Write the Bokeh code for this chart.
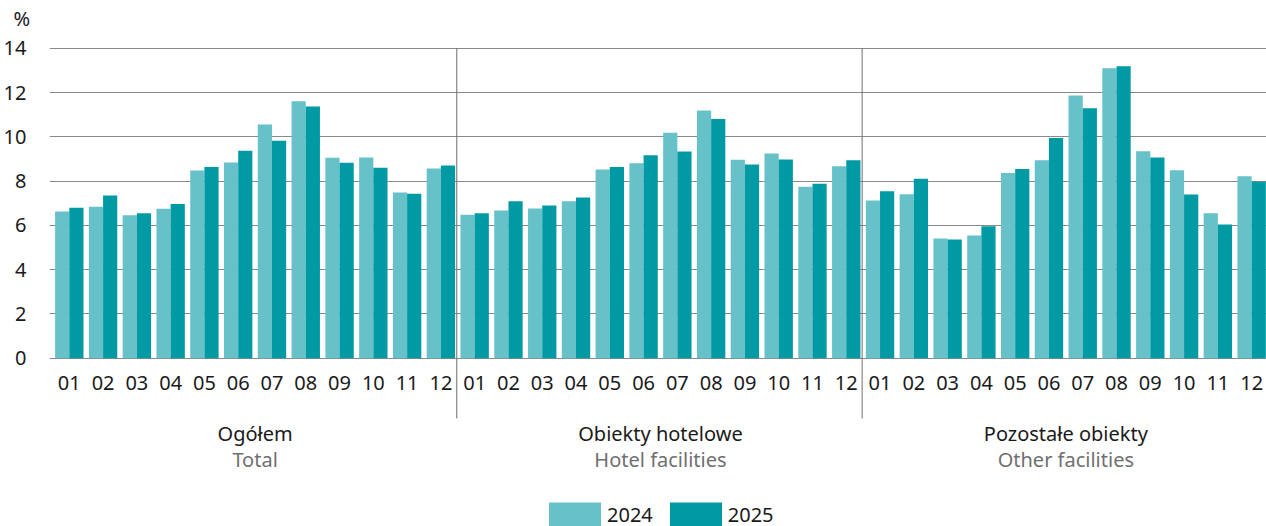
from bokeh.plotting import figure
from bokeh.models import (ColumnDataSource, FixedTicker, Label, Legend, LegendItem, Range1d)
from bokeh.transform import dodge
from bokeh.embed import file_html
from bokeh.resources import INLINE

months = ["01", "02", "03", "04", "05", "06", "07", "08", "09", "10", "11", "12"]
groups_pl = ["Ogółem", "Obiekty hotelowe", "Pozostałe obiekty"]
groups_en = ["Total", "Hotel facilities", "Other facilities"]
years = ["2024", "2025"]

total_2024 = [6.63, 6.84, 6.46, 6.75, 8.48, 8.84, 10.56, 11.61, 9.05, 9.07, 7.48, 8.57]
total_2025 = [6.79, 7.35, 6.55, 6.96, 8.63, 9.37, 9.82, 11.37, 8.83, 8.60, 7.43, 8.70]
hotel_2024 = [6.48, 6.67, 6.76, 7.09, 8.52, 8.81, 10.18, 11.19, 8.96, 9.25, 7.74, 8.67]
hotel_2025 = [6.55, 7.09, 6.90, 7.26, 8.64, 9.17, 9.34, 10.80, 8.75, 8.97, 7.88, 8.94]
other_2024 = [7.12, 7.41, 5.41, 5.54, 8.37, 8.94, 11.87, 13.10, 9.35, 8.49, 6.55, 8.22]
other_2025 = [7.54, 8.10, 5.36, 5.96, 8.55, 9.94, 11.29, 13.19, 9.07, 7.39, 6.04, 7.97]

y_ticks = [0, 2, 4, 6, 8, 10, 12, 14]

C24 = "#66C1C9"
C25 = "#009AA5"
FONT = "Noto Sans"

n = len(months)
xs = [g * n + i for g in range(len(groups_pl)) for i in range(n)]
src = ColumnDataSource(dict(
    x=xs,
    y24=total_2024 + hotel_2024 + other_2024,
    y25=total_2025 + hotel_2025 + other_2025,
))

p = figure(width=1266, height=526, output_backend="svg", toolbar_location=None,
           x_range=Range1d(-0.586, 35.44), y_range=Range1d(-7.60, 14.80),
           min_border_left=45, min_border_right=0, min_border_top=30, min_border_bottom=0)
p.outline_line_color = None
p.background_fill_color = "white"
p.border_fill_color = "white"

# unit label above the value axis
p.title.text = "%"
p.title.align = "left"
p.title.offset = -36
p.title.standoff = -3
p.title.text_font = FONT
p.title.text_font_size = "20px"
p.title.text_font_style = "normal"
p.title.text_color = "#1a1a1a"

r24 = p.vbar(x=dodge("x", -0.21), top="y24", bottom=0, width=0.42, source=src,
             fill_color=C24, line_color=None)
r25 = p.vbar(x=dodge("x", 0.21), top="y25", bottom=0, width=0.42, source=src,
             fill_color=C25, line_color=None)

# axes
p.xaxis.fixed_location = 0
p.xaxis.ticker = FixedTicker(ticks=xs)
p.xaxis.major_label_overrides = {x: months[x % n] for x in xs}
p.xaxis.axis_line_color = None
p.xaxis.major_tick_line_color = None
p.xaxis.minor_tick_line_color = None
p.xaxis.major_label_standoff = 12
p.xaxis.major_label_text_font = FONT
p.xaxis.major_label_text_font_size = "20px"
p.xaxis.major_label_text_color = "#1a1a1a"

p.yaxis.ticker = FixedTicker(ticks=y_ticks)
p.yaxis.axis_line_color = None
p.yaxis.major_tick_line_color = None
p.yaxis.minor_tick_line_color = None
p.yaxis.major_label_standoff = 17
p.yaxis.major_label_text_font = FONT
p.yaxis.major_label_text_font_size = "20px"
p.yaxis.major_label_text_color = "#1a1a1a"

p.xgrid.grid_line_color = None
p.ygrid.ticker = FixedTicker(ticks=y_ticks)
p.ygrid.grid_line_color = "#8a8a8a"
p.ygrid.grid_line_width = 1

# group separators
sep_x = [g * n - 0.53 for g in range(1, len(groups_pl))]
p.segment(x0=sep_x, x1=sep_x, y0=[max(y_ticks)] * len(sep_x), y1=[-2.72] * len(sep_x),
          line_color="#6e6e6e", line_width=1)

# group labels
for g in range(len(groups_pl)):
    cx = g * n + (n - 1) / 2
    p.add_layout(Label(x=cx, y=-3.40, text=groups_pl[g], text_align="center",
                       text_baseline="middle", text_font=FONT, text_font_size="20px",
                       text_color="#1a1a1a"))
    p.add_layout(Label(x=cx, y=-4.58, text=groups_en[g], text_align="center",
                       text_baseline="middle", text_font=FONT, text_font_size="20px",
                       text_color="#707070"))

legend = Legend(items=[LegendItem(label=years[0], renderers=[r24]),
                       LegendItem(label=years[1], renderers=[r25])],
                location=(493, -3), orientation="horizontal",
                glyph_width=65, glyph_height=30, label_standoff=-2, spacing=10,
                padding=0, margin=0, border_line_color=None, background_fill_alpha=0,
                label_text_font=FONT, label_text_font_size="20px", label_text_color="#1a1a1a",
                label_height=30)
p.add_layout(legend)

open("out.html", "w").write(file_html(p, INLINE))
